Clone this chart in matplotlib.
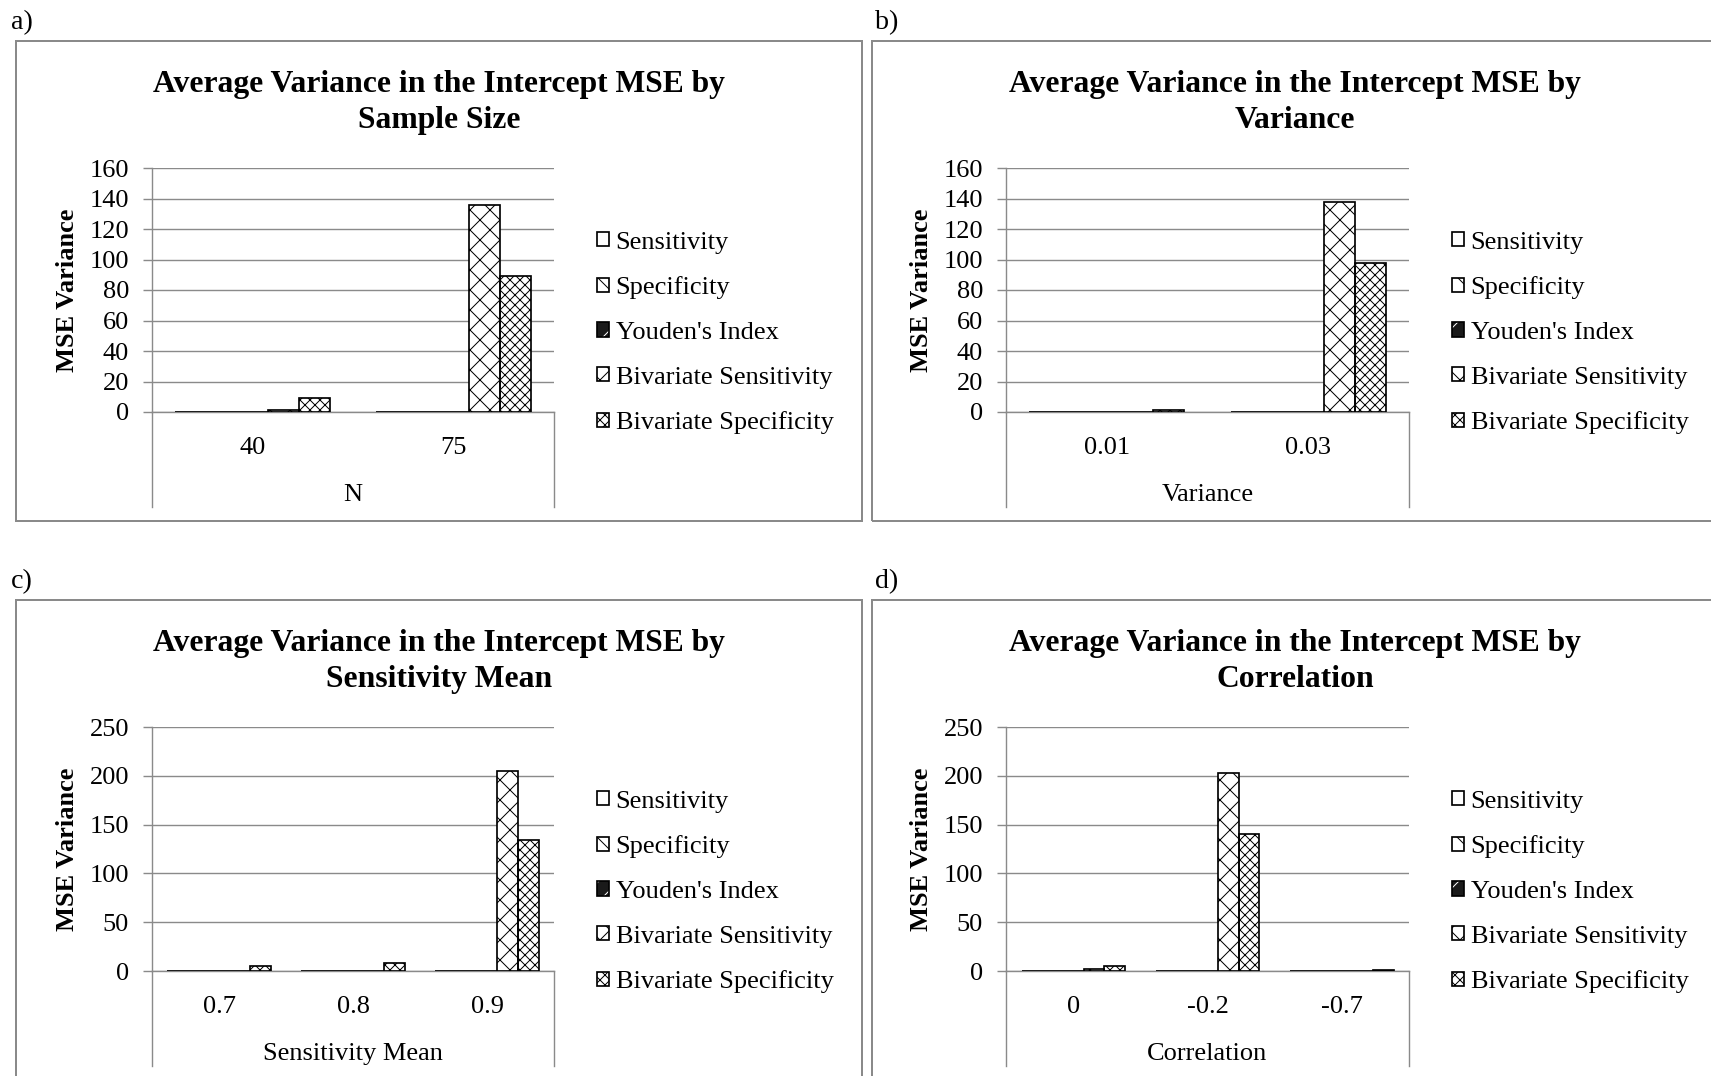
import numpy as np
import matplotlib
matplotlib.use("Agg")
import matplotlib.pyplot as plt
from matplotlib.patches import Rectangle
from matplotlib.legend_handler import HandlerTuple

# ---------------- data ----------------
series_names = ["Sensitivity", "Specificity", "Youden's Index",
                "Bivariate Sensitivity", "Bivariate Specificity"]

a_categories = ["40", "75"]
a_sensitivity = [0, 0]
a_specificity = [0, 0]
a_youden = [0, 0]
a_biv_sens = [1.2, 136]
a_biv_spec = [9, 89.5]

b_categories = ["0.01", "0.03"]
b_sensitivity = [0, 0]
b_specificity = [0, 0]
b_youden = [0, 0]
b_biv_sens = [0, 137.5]
b_biv_spec = [1.2, 97.5]

c_categories = ["0.7", "0.8", "0.9"]
c_sensitivity = [0, 0, 0]
c_specificity = [0, 0, 0]
c_youden = [0, 0, 0]
c_biv_sens = [0, 0, 204.5]
c_biv_spec = [5, 8, 134]

d_categories = ["0", "-0.2", "-0.7"]
d_sensitivity = [0, 0, 0]
d_specificity = [0, 0, 0]
d_youden = [0, 0, 0]
d_biv_sens = [1.7, 203, 0]
d_biv_spec = [5, 140, 1.3]

# ---------------- styling ----------------
W, H, DPI = 1711, 1076, 120
plt.rcParams['font.family'] = ['Liberation Serif', 'DejaVu Serif']
plt.rcParams['hatch.linewidth'] = 0.6


def pt(px):
    return px * 72.0 / DPI


def fx(x):
    return x / W


def fy(y):
    return 1 - y / H


FS = pt(26.4)
TFS = pt(31.6)
GRAY = '#8a8a8a'
LW = pt(1.4)

# face, hatch, hatch colour
styles = [
    ('white', '', 'black'),
    ('white', '\\\\', 'black'),
    ('#1a1a1a', '//', 'white'),
    ('white', 'xx', 'black'),
    ('white', 'xxxx', 'black'),
]

fig = plt.figure(figsize=(W / DPI, H / DPI), dpi=DPI)
fig.patch.set_facecolor('white')

BOX_W, BOX_H = 846, 480


def draw_panel(letter, letter_x, box_x, box_y, plot_l, plot_t, plot_r, plot_b,
               title1, title2, xlabel, cats, series, ymax, ystep):
    # chart-area frame
    fig.add_artist(Rectangle((fx(box_x), fy(box_y + BOX_H)), BOX_W / W, BOX_H / H,
                             transform=fig.transFigure, fill=False,
                             edgecolor=GRAY, lw=pt(2)))
    fig.text(fx(letter_x), fy(box_y - 12), letter + ')', fontsize=pt(28),
             ha='left', va='baseline')
    cx = fx(box_x + BOX_W / 2)
    fig.text(cx, fy(box_y + 51), title1, fontsize=TFS, fontweight='bold',
             ha='center', va='baseline')
    fig.text(cx, fy(box_y + 87), title2, fontsize=TFS, fontweight='bold',
             ha='center', va='baseline')

    pw, ph = plot_r - plot_l, plot_b - plot_t
    ax = fig.add_axes([fx(plot_l), fy(plot_b), pw / W, ph / H])
    ax.set_facecolor('none')
    n = len(cats)
    x = np.arange(n)
    w = 1 / 6.5
    handles = []
    for i, vals in enumerate(series):
        face, hatch, hcol = styles[i]
        b1 = ax.bar(x + (i - 2) * w, vals, w, color=face, edgecolor=hcol,
                    hatch=hatch, lw=0, zorder=3)
        b2 = ax.bar(x + (i - 2) * w, vals, w, facecolor='none',
                    edgecolor='black', lw=pt(1.7), zorder=4)
        handles.append((b1.patches[0], b2.patches[0]))

    ax.set_xlim(-0.5, n - 0.5)
    ax.set_ylim(0, ymax)
    ax.set_yticks(np.arange(0, ymax + 1, ystep))
    ax.set_xticks(x)
    ax.set_xticklabels(cats)
    ax.grid(axis='y', color=GRAY, lw=LW, zorder=0)
    ax.set_axisbelow(True)
    for s in ['top', 'right']:
        ax.spines[s].set_visible(False)
    for s in ['left', 'bottom']:
        ax.spines[s].set_color(GRAY)
        ax.spines[s].set_linewidth(LW)
    ax.tick_params(axis='y', direction='out', length=pt(9), width=LW,
                   color=GRAY, labelsize=FS, pad=pt(14))
    ax.tick_params(axis='x', length=0, labelsize=FS, pad=pt(25))

    # category-axis frame lines
    d = 95 / ph
    for xx in (0, 1):
        ax.plot([xx, xx], [0, -d], transform=ax.transAxes, clip_on=False,
                color=GRAY, lw=LW)

    ax.set_xlabel(xlabel, fontsize=FS)
    ax.xaxis.set_label_coords(0.5, -89 / ph)
    ax.xaxis.label.set_va('baseline')
    ax.set_ylabel('MSE Variance', fontsize=FS, fontweight='bold')
    ax.yaxis.set_label_coords(-84.5 / pw, 0.5)
    ax.yaxis.label.set_va('center')

    ax.legend(handles, series_names, loc='center left',
              bbox_to_anchor=(1 + 43 / pw, 0.5 - 43 / ph),
              frameon=False, fontsize=FS, handlelength=0.46, handleheight=0.46,
              handletextpad=0.25, labelspacing=0.86, borderpad=0,
              borderaxespad=0,
              handler_map={tuple: HandlerTuple(ndivide=1, pad=0)})
    return ax


draw_panel('a', 11, 16, 41, 152, 168, 554, 412,
           'Average Variance in the Intercept MSE by', 'Sample Size', 'N',
           a_categories,
           [a_sensitivity, a_specificity, a_youden, a_biv_sens, a_biv_spec],
           160, 20)
draw_panel('b', 875, 872, 41, 1006, 168, 1409, 412,
           'Average Variance in the Intercept MSE by', 'Variance', 'Variance',
           b_categories,
           [b_sensitivity, b_specificity, b_youden, b_biv_sens, b_biv_spec],
           160, 20)
draw_panel('c', 11, 16, 600, 152, 727, 554, 971,
           'Average Variance in the Intercept MSE by', 'Sensitivity Mean',
           'Sensitivity Mean', c_categories,
           [c_sensitivity, c_specificity, c_youden, c_biv_sens, c_biv_spec],
           250, 50)
draw_panel('d', 875, 872, 600, 1006, 727, 1409, 971,
           'Average Variance in the Intercept MSE by', 'Correlation',
           'Correlation', d_categories,
           [d_sensitivity, d_specificity, d_youden, d_biv_sens, d_biv_spec],
           250, 50)

fig.savefig('out.png', dpi=DPI, facecolor='white')
